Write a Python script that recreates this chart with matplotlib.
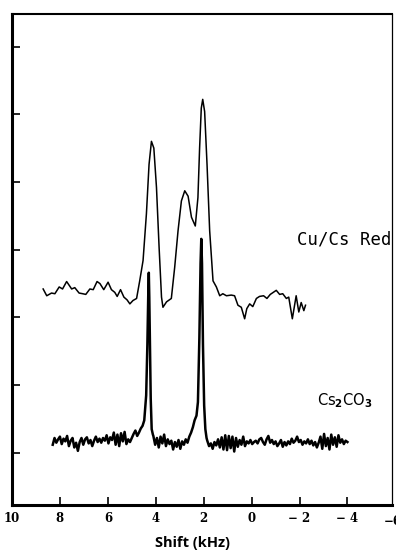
import matplotlib
matplotlib.use('Agg')
import matplotlib.pyplot as plt
import matplotlib.transforms as mtransforms

# Cu/Cs Red spectrum (shift in kHz, intensity in arbitrary units)
red_shift = [8.70, 8.55, 8.35, 8.21, 8.03, 7.89, 7.72, 7.51, 7.38, 7.20,
             7.05, 6.92, 6.75, 6.61, 6.45, 6.33, 6.17, 5.99, 5.85, 5.71,
             5.61, 5.47, 5.33, 5.20, 5.08, 4.95, 4.80, 4.67, 4.53, 4.39,
             4.28, 4.18, 4.08, 3.97, 3.86, 3.76, 3.70, 3.55, 3.35, 3.21,
             3.07, 2.93, 2.79, 2.65, 2.51, 2.35, 2.24, 2.17, 2.10, 2.04,
             1.96, 1.86, 1.75, 1.61, 1.47, 1.33, 1.20, 1.05, 0.85, 0.71,
             0.57, 0.43, 0.29, 0.20, 0.08, -0.05, -0.20, -0.33, -0.50, -0.64,
             -0.78, -1.03, -1.17, -1.30, -1.45, -1.55, -1.70, -1.86, -1.97, -2.07,
             -2.18, -2.25]
red_int = [2.42, 2.32, 2.36, 2.35, 2.45, 2.42, 2.53, 2.42, 2.44, 2.36,
           2.35, 2.34, 2.42, 2.41, 2.53, 2.50, 2.41, 2.52, 2.41, 2.37,
           2.31, 2.41, 2.30, 2.26, 2.20, 2.25, 2.28, 2.54, 2.84, 3.53,
           4.26, 4.60, 4.50, 3.92, 3.03, 2.30, 2.15, 2.23, 2.28, 2.74,
           3.28, 3.72, 3.87, 3.79, 3.48, 3.35, 3.77, 4.50, 5.09, 5.22,
           5.04, 4.26, 3.28, 2.54, 2.45, 2.32, 2.35, 2.32, 2.33, 2.32,
           2.18, 2.15, 1.98, 2.13, 2.20, 2.16, 2.28, 2.31, 2.32, 2.28,
           2.34, 2.40, 2.34, 2.35, 2.28, 2.30, 1.98, 2.32, 2.08, 2.22,
           2.10, 2.18]

# Cs2CO3 reference spectrum
carb_shift = [8.30, 8.225, 8.15, 8.075, 8.00, 7.925, 7.85, 7.775, 7.70, 7.625,
              7.55, 7.475, 7.40, 7.325, 7.25, 7.175, 7.10, 7.025, 6.95, 6.875,
              6.80, 6.725, 6.65, 6.575, 6.50, 6.425, 6.35, 6.275, 6.20, 6.125,
              6.05, 5.975, 5.90, 5.825, 5.75, 5.675, 5.60, 5.525, 5.45, 5.375,
              5.30, 5.225, 5.15, 5.075, 5.00, 4.925, 4.85, 4.775, 4.70, 4.625,
              4.55,
              4.48, 4.40, 4.35, 4.31, 4.29, 4.27, 4.24, 4.21, 4.17, 4.12,
              4.10, 4.025, 3.95, 3.875, 3.80, 3.725, 3.65, 3.575, 3.50, 3.425,
              3.35, 3.275, 3.20, 3.125, 3.05, 2.975, 2.90, 2.825, 2.75, 2.675,
              2.60, 2.525, 2.45,
              2.38, 2.30, 2.24, 2.18, 2.13, 2.10, 2.07, 2.03, 1.98, 1.93, 1.88,
              1.85, 1.775, 1.70, 1.625, 1.55, 1.475, 1.40, 1.325, 1.25, 1.175,
              1.10, 1.025, 0.95, 0.875, 0.80, 0.725, 0.65, 0.575, 0.50, 0.425,
              0.35, 0.275, 0.20, 0.125, 0.05, -0.025, -0.10, -0.175, -0.25, -0.325,
              -0.40, -0.475, -0.55, -0.625, -0.70, -0.775, -0.85, -0.925, -1.00, -1.075,
              -1.15, -1.225, -1.30, -1.375, -1.45, -1.525, -1.60, -1.675, -1.75, -1.825,
              -1.90, -1.975, -2.05, -2.125, -2.20, -2.275, -2.35, -2.425, -2.50, -2.575,
              -2.65, -2.725, -2.80, -2.875, -2.95, -3.025, -3.10, -3.175, -3.25, -3.325,
              -3.40, -3.475, -3.55, -3.625, -3.70, -3.775, -3.85, -3.925, -4.00]
carb_int = [0.12, 0.22, 0.15, 0.20, 0.24, 0.13, 0.21, 0.17, 0.25, 0.10,
            0.18, 0.22, 0.08, 0.15, 0.03, 0.16, 0.22, 0.12, 0.20, 0.23,
            0.14, 0.19, 0.10, 0.18, 0.24, 0.16, 0.21, 0.15, 0.22, 0.18,
            0.26, 0.14, 0.23, 0.19, 0.30, 0.12, 0.27, 0.10, 0.29, 0.17,
            0.31, 0.13, 0.20, 0.16, 0.22, 0.28, 0.33, 0.25, 0.30, 0.36,
            0.40,
            0.48, 0.85, 1.60, 2.40, 2.66, 2.30, 1.50, 0.80, 0.35, 0.27,
            0.25, 0.12, 0.22, 0.08, 0.24, 0.14, 0.27, 0.10, 0.20, 0.13,
            0.18, 0.05, 0.16, 0.09, 0.19, 0.06, 0.17, 0.12, 0.20, 0.15,
            0.24, 0.30, 0.38,
            0.48, 0.55, 0.75, 1.70, 2.80, 3.16, 2.80, 1.60, 0.70, 0.35, 0.22,
            0.18, 0.10, 0.14, 0.06, 0.16, 0.11, 0.20, 0.08, 0.23, 0.05,
            0.26, 0.04, 0.25, 0.07, 0.24, 0.02, 0.22, 0.09, 0.19, 0.12,
            0.24, 0.10, 0.17, 0.14, 0.19, 0.13, 0.16, 0.18, 0.14, 0.20,
            0.22, 0.16, 0.12, 0.20, 0.25, 0.15, 0.19, 0.13, 0.17, 0.10,
            0.14, 0.19, 0.09, 0.16, 0.11, 0.17, 0.13, 0.21, 0.15, 0.18,
            0.24, 0.16, 0.19, 0.12, 0.17, 0.14, 0.20, 0.13, 0.18, 0.11,
            0.16, 0.08, 0.15, 0.24, 0.06, 0.28, 0.10, 0.22, 0.05, 0.27,
            0.12, 0.23, 0.09, 0.26, 0.15, 0.20, 0.13, 0.18, 0.16]

x_ticks = [10, 8, 6, 4, 2, 0, -2, -4]
x_labels = ['10', '8', '6', '4', '2', '0', '\u2212 2', '\u2212 4']

fig = plt.figure(figsize=(3.96, 5.54), dpi=100)
ax = fig.add_axes([0.0303, 0.0884, 0.9596, 0.8863])

ax.plot(red_shift, red_int, color='black', lw=1.1)
ax.plot(carb_shift, carb_int, color='black', lw=1.8)

ax.set_xlim(10, -5.86)
ax.set_ylim(-0.77, 6.48)

tick_font = dict(family='DejaVu Serif', fontweight='bold', fontsize=8.5)
ax.set_xticks(x_ticks)
ax.set_xticklabels(x_labels, **tick_font)
ax.set_yticks(range(7))
ax.set_yticklabels([])
ax.tick_params(axis='x', direction='in', length=6, width=1.2, pad=5)
ax.tick_params(axis='y', direction='in', length=6, width=1.2)

# -6 label sits past the right spine, partly cut by the figure edge
trans = mtransforms.blended_transform_factory(ax.transData, ax.transAxes)
ax.text(-5.5, -0.021, '\u22126', transform=trans, ha='left', va='top',
        clip_on=False, **tick_font)

ax.spines['left'].set_linewidth(2.2)
ax.spines['bottom'].set_linewidth(2.2)
ax.spines['top'].set_linewidth(1.5)
ax.spines['right'].set_linewidth(0.9)

ax.set_xlabel('Shift (kHz)', family='Open Sans', fontweight='bold', fontsize=10.5)
ax.xaxis.label.set_va('center')
ax.xaxis.set_label_coords(0.476, -0.077)

ax.text(-1.9, 3.15, 'Cu/Cs Red', family='DejaVu Sans Mono', fontsize=12.5,
        va='center', ha='left', clip_on=False)
ax.text(-2.75, 0.77, 'Cs$_\\mathbf{2}$CO$_\\mathbf{3}$', family='DejaVu Sans',
        fontsize=10.5, va='center', ha='left')

fig.savefig('out.png', dpi=100)
